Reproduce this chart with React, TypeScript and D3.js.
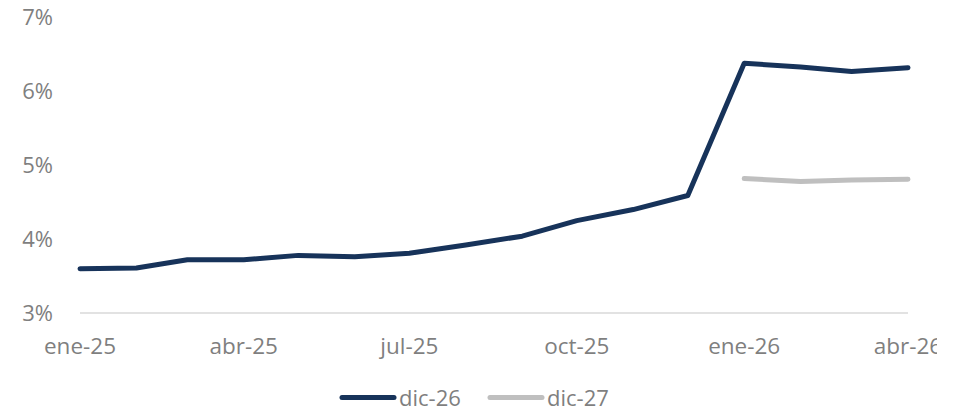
import React from "react";
import * as d3 from "d3";

const months: string[] = [
  "2025-01-01", "2025-02-01", "2025-03-01", "2025-04-01", "2025-05-01", "2025-06-01",
  "2025-07-01", "2025-08-01", "2025-09-01", "2025-10-01", "2025-11-01", "2025-12-01",
  "2026-01-01", "2026-02-01", "2026-03-01", "2026-04-01",
];
const dic26: (number | null)[] = [
  3.60, 3.61, 3.72, 3.72, 3.78, 3.76, 3.81, 3.92, 4.04, 4.25, 4.40, 4.59,
  6.38, 6.33, 6.27, 6.32,
];
const dic27: (number | null)[] = [
  null, null, null, null, null, null, null, null, null, null, null, null,
  4.82, 4.78, 4.80, 4.81,
];
const yTicks: number[] = [3, 4, 5, 6, 7];
const xTickDates: string[] = ["2025-01-01", "2025-04-01", "2025-07-01", "2025-10-01", "2026-01-01", "2026-04-01"];
const xTickLabels: string[] = ["ene-25", "abr-25", "jul-25", "oct-25", "ene-26", "abr-26"];
const seriesNames: string[] = ["dic-26", "dic-27"];

const NAVY = "#17335a";
const GRAY = "#bfbfbf";
const TEXT = "#7f7f7f";
const FONT = "'Open Sans', 'DejaVu Sans', sans-serif";

export default function App() {
  const W = 966, H = 409;
  const parse = (s: string) => new Date(s + "T00:00:00Z");
  const x = d3.scaleUtc()
    .domain([parse(months[0]), parse(months[months.length - 1])])
    .range([80, 908]);
  const y = d3.scaleLinear().domain([3, 7]).range([313, 17.5]);

  const mk = (vals: (number | null)[]) =>
    d3.line<number>()
      .defined((i) => vals[i] != null)
      .x((i) => x(parse(months[i])))
      .y((i) => y(vals[i] as number))(months.map((_, i) => i)) || "";

  return (
    <svg width={W} height={H} style={{ position: "absolute", left: 0, top: 0 }} fontFamily={FONT}>
      <defs>
        <clipPath id="clip">
          <rect x={0} y={0} width={937} height={H} />
        </clipPath>
      </defs>
      <rect width={W} height={H} fill="#fff" />
      <line x1={80} x2={908} y1={y(3)} y2={y(3)} stroke="#d9d9d9" strokeWidth={1.5} />
      {yTicks.map((t) => (
        <text key={t} x={53} y={y(t)} dy="0.35em" textAnchor="end" fontSize={22} fill={TEXT}>
          {t}%
        </text>
      ))}
      <g clipPath="url(#clip)">
        {xTickDates.map((d, i) => (
          <text key={d} x={x(parse(d))} y={354} textAnchor="middle" fontSize={22.5} fill={TEXT}>
            {xTickLabels[i]}
          </text>
        ))}
      </g>
      <path d={mk(dic27)} fill="none" stroke={GRAY} strokeWidth={5} strokeLinecap="round" strokeLinejoin="round" />
      <path d={mk(dic26)} fill="none" stroke={NAVY} strokeWidth={5} strokeLinecap="round" strokeLinejoin="round" />
      <g>
        <line x1={342} x2={394} y1={397.5} y2={397.5} stroke={NAVY} strokeWidth={5} strokeLinecap="round" />
        <text x={399} y={405.5} fontSize={22} fill={TEXT}>{seriesNames[0]}</text>
        <line x1={490} x2={542} y1={397.5} y2={397.5} stroke={GRAY} strokeWidth={5} strokeLinecap="round" />
        <text x={547} y={405.5} fontSize={22} fill={TEXT}>{seriesNames[1]}</text>
      </g>
    </svg>
  );
}
